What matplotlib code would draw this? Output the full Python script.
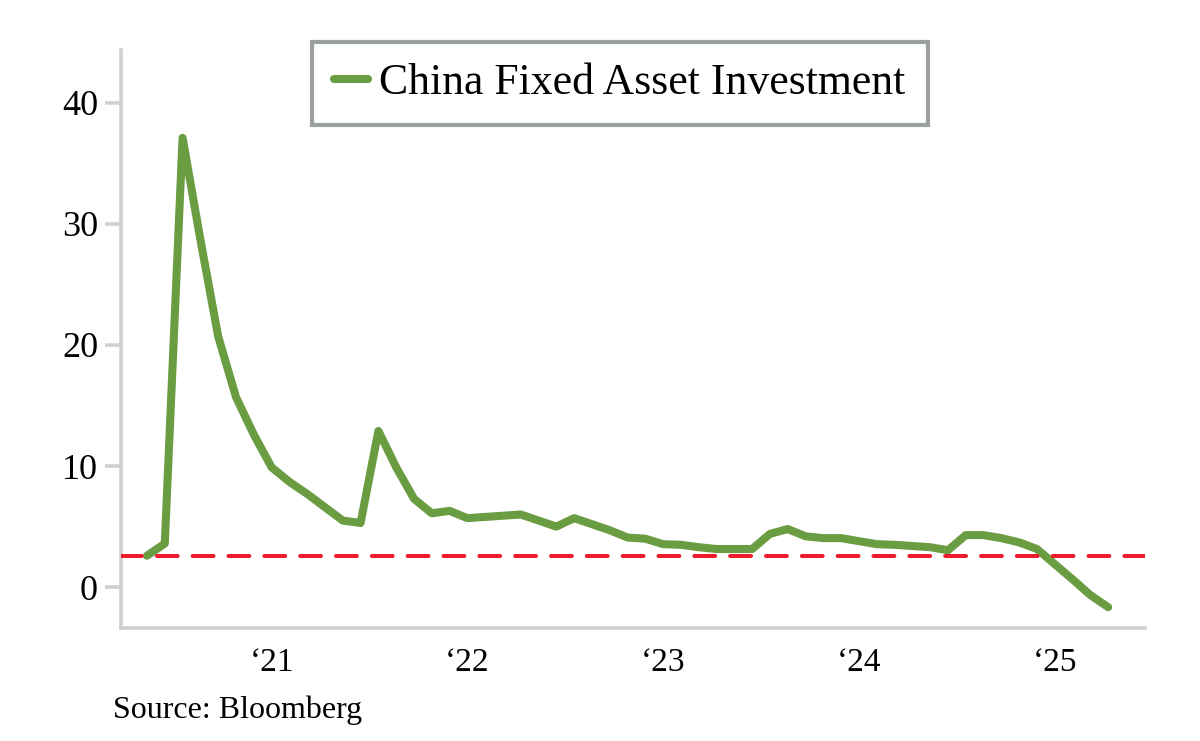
import matplotlib
matplotlib.use("Agg")
import matplotlib.pyplot as plt

# ---- data -------------------------------------------------------------
periods = (
    ["Nov-20", "Dec-20"]
    + ["Feb-21", "Mar-21", "Apr-21", "May-21", "Jun-21", "Jul-21", "Aug-21", "Sep-21", "Oct-21", "Nov-21", "Dec-21"]
    + ["Feb-22", "Mar-22", "Apr-22", "May-22", "Jun-22", "Jul-22", "Aug-22", "Sep-22", "Oct-22", "Nov-22", "Dec-22"]
    + ["Feb-23", "Mar-23", "Apr-23", "May-23", "Jun-23", "Jul-23", "Aug-23", "Sep-23", "Oct-23", "Nov-23", "Dec-23"]
    + ["Feb-24", "Mar-24", "Apr-24", "May-24", "Jun-24", "Jul-24", "Aug-24", "Sep-24", "Oct-24", "Nov-24", "Dec-24"]
    + ["Feb-25", "Mar-25", "Apr-25", "May-25", "Jun-25", "Jul-25", "Aug-25", "Sep-25", "Oct-25"]
)
fai = [2.6, 3.6, 37.1, 28.7, 20.7, 15.7, 12.6, 9.9, 8.7, 7.7,
       6.6, 5.5, 5.3, 12.9, 9.9, 7.3, 6.1, 6.3, 5.7, 5.8,
       5.9, 6.0, 5.5, 5.0, 5.7, 5.2, 4.7, 4.1, 4.0, 3.55,
       3.5, 3.3, 3.15, 3.15, 3.15, 4.4, 4.8, 4.2, 4.05, 4.05,
       3.8, 3.55, 3.5, 3.4, 3.3, 3.05, 4.3, 4.3, 4.05, 3.7,
       3.15, 1.9, 0.65, -0.65, -1.65]
reference_level = 2.6
series_name = "China Fixed Asset Investment"
xtick_periods = ["Jul-21", "Jul-22", "Jul-23", "Jul-24", "Jul-25"]
xtick_labels = ["\u201821", "\u201822", "\u201823", "\u201824", "\u201825"]
ytick_values = [0, 10, 20, 30, 40]
grid_values = [10, 20, 30, 40]
source_text = "Source: Bloomberg"

# ---- style ------------------------------------------------------------
plt.rcParams["font.family"] = ["Liberation Serif", "DejaVu Serif"]
plt.rcParams["lines.scale_dashes"] = False
GREEN = "#6A9C42"
RED = "#EC1C2D"
GRID = "#D0D0D2"
LEGEND_EDGE = "#9AA19B"

fig = plt.figure(figsize=(12, 7.41), dpi=100)
ax = fig.add_axes([121 / 1200, 113 / 741, 1024 / 1200, 578 / 741])

x = list(range(len(fai)))
ax.plot(x, fai, color=GREEN, lw=5.8, solid_capstyle="round",
        solid_joinstyle="round", label=series_name, zorder=3)
ax.axhline(reference_level, color=RED, lw=2.9, dashes=(15.0, 10.8),
           dash_capstyle="round", zorder=4)

ax.set_xlim(-1.46, 56.07)
ax.set_ylim(-3.37, 44.35)

ax.set_yticks(ytick_values)
ax.set_yticklabels([str(v) for v in ytick_values])
ax.set_yticks(grid_values, minor=True)
ax.yaxis.grid(True, which="minor", color=GRID, lw=2.6)
ax.yaxis.grid(False, which="major")
ax.tick_params(axis="y", which="major", length=11.5, width=2.6, color=GRID,
               pad=5, labelsize=26)
ax.tick_params(axis="y", which="minor", length=0)

ax.set_xticks([periods.index(p) for p in xtick_periods])
ax.set_xticklabels(xtick_labels)
ax.tick_params(axis="x", length=0, pad=14, labelsize=24)

for s in ("top", "right"):
    ax.spines[s].set_visible(False)
for s in ("left", "bottom"):
    ax.spines[s].set_color(GRID)
    ax.spines[s].set_linewidth(2.6)
ax.set_axisbelow(True)

leg = ax.legend(loc="center", bbox_to_anchor=(620 / 1200, 1 - 83.5 / 741),
                bbox_transform=fig.transFigure, fontsize=31.5, frameon=True,
                fancybox=False, framealpha=1, edgecolor=LEGEND_EDGE,
                handlelength=0.78, handletextpad=0.25, borderpad=0.5)
leg.get_frame().set_linewidth(3.0)
leg.set_zorder(10)

fig.text(113 / 1200, 1 - 718 / 741, source_text, fontsize=23,
         ha="left", va="baseline")

fig.savefig("out.png", dpi=100)
